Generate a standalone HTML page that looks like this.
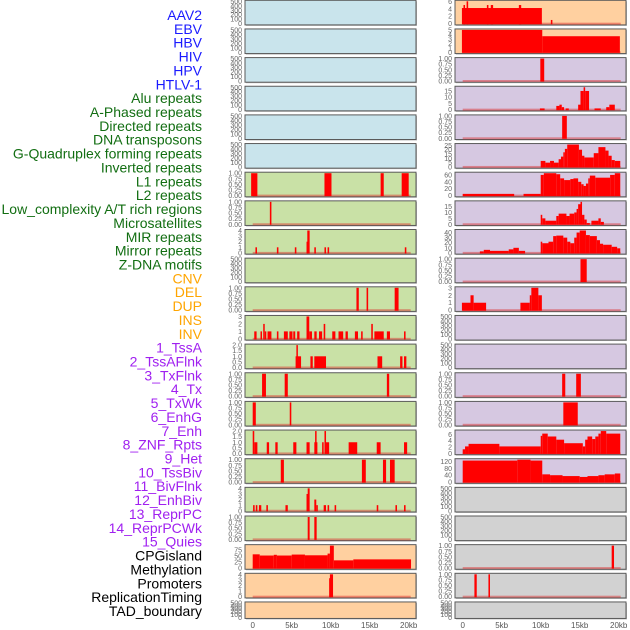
<!DOCTYPE html>
<html><head><meta charset="utf-8">
<style>
html,body{margin:0;padding:0;background:#fff;}
svg{display:block;font-family:"Liberation Sans",sans-serif;}
</style></head>
<body>
<svg id="chart" width="630" height="630" viewBox="0 0 630 630" xmlns="http://www.w3.org/2000/svg"></svg>
<script>
// ---------- data (kb start, kb end, value) ----------
const trackLabels = ["AAV2","EBV","HBV","HIV","HPV","HTLV-1","Alu repeats","A-Phased repeats","Directed repeats","DNA transposons","G-Quadruplex forming repeats","Inverted repeats","L1 repeats","L2 repeats","Low_complexity A/T rich regions","Microsatellites","MIR repeats","Mirror repeats","Z-DNA motifs","CNV","DEL","DUP","INS","INV","1_TssA","2_TssAFlnk","3_TxFlnk","4_Tx","5_TxWk","6_EnhG","7_Enh","8_ZNF_Rpts","9_Het","10_TssBiv","11_BivFlnk","12_EnhBiv","13_ReprPC","14_ReprPCWk","15_Quies","CPGisland","Methylation","Promoters","ReplicationTiming","TAD_boundary"];
const labelColors = ["#1a1aff","#1a1aff","#1a1aff","#1a1aff","#1a1aff","#1a1aff","#126e12","#126e12","#126e12","#126e12","#126e12","#126e12","#126e12","#126e12","#126e12","#126e12","#126e12","#126e12","#126e12","#ffa500","#ffa500","#ffa500","#ffa500","#ffa500","#a020f0","#a020f0","#a020f0","#a020f0","#a020f0","#a020f0","#a020f0","#a020f0","#a020f0","#a020f0","#a020f0","#a020f0","#a020f0","#a020f0","#a020f0","#000","#000","#000","#000","#000"];
const xTickValues = [0,5,10,15,20];
const xTickLabels = ["0","5kb","10kb","15kb","20kb"];
const emptyTicks = [0,100,200,300,400,500];
const unitTicks = [0,0.25,0.5,0.75,1];

const L6 = [[-0.2,0.6,1],[9.2,10.1,1],[16.4,16.8,1],[19.1,20.0,1]];
const L7 = [[2.2,2.4,1]];
const L8 = [[0.35,0.55,1],[3.1,3.3,1],[5.4,5.6,1],[6.9,7.0,2],[7.0,7.3,4],[7.9,8.1,1],[9.2,9.4,1],[9.6,9.8,1],[19.5,19.7,1]];
const L10 = [[13.3,13.6,1],[14.6,14.8,1],[18.2,18.7,1]];
const L11 = [[0.2,0.5,1],[1.0,1.15,1],[1.35,1.5,2],[1.55,1.7,1],[1.9,2.4,1],[3.1,3.3,1],[4.0,4.5,1],[4.7,5.1,1],[5.2,5.45,1],[5.7,6.0,1],[6.9,7.25,3],[7.25,7.6,1],[7.9,8.2,1],[8.5,8.9,1],[9.1,9.3,2],[10.2,10.6,1],[11.0,11.6,1],[11.9,12.2,1],[13.1,13.5,1],[13.9,14.1,1],[15.2,15.4,2],[15.6,16.8,1],[17.2,17.6,1],[19.4,19.6,1]];
const L12 = [[5.5,5.6,1],[5.6,5.7,2],[5.7,6.2,1],[7.4,7.7,1],[7.9,9.4,1],[16.0,16.6,1],[18.9,19.2,1],[19.4,19.7,1]];
const L13 = [[1.2,1.7,1],[4.1,4.5,1],[17.2,17.5,1]];
const L14 = [[0,0.4,1],[4.75,4.95,1]];
const L15 = [[0,0.2,2],[0.2,0.6,1],[1.8,2.1,1],[2.9,3.2,1],[5.2,5.6,1],[6.9,7.3,1],[7.9,8.0,1],[8.0,8.1,2],[8.1,8.2,1],[8.9,9.1,1],[9.2,9.4,2],[9.4,9.8,1],[12.3,13.4,1],[15.9,16.4,1],[19.4,19.8,1]];
const L16 = [[3.6,4.0,1],[14.0,14.5,1],[16.7,17.1,1],[17.6,18.2,1]];
const L17 = [[0.05,0.25,1],[0.4,0.6,1],[0.8,1.1,1],[1.75,1.95,1],[4.2,4.5,1],[6.9,7.05,3],[7.05,7.3,4],[7.9,8.15,2],[8.15,8.35,1],[9.1,9.4,1],[9.6,9.8,1],[10.5,10.7,1],[15.9,16.1,1],[18.3,18.5,1],[19.4,19.6,1]];
const L18 = [[7.05,7.3,1],[7.9,8.2,1]];
const L19 = [[0,0.9,57],[0.9,2.7,52],[2.7,3.1,55],[3.1,5.0,52],[5.0,6.7,56],[6.7,9.6,53],[9.6,9.9,60],[9.9,10.4,93],[10.4,12.9,32],[12.9,20.3,36]];
const L20 = [[9.8,9.9,3.3],[9.9,10.3,4]];

const R0 = [[-0.1,10.15,4.2],[0.1,0.3,5],[0.5,0.7,6],[3.1,3.3,5],[3.6,3.9,5],[7.2,7.5,5],[11.3,11.5,1]];
const R1 = [[-0.1,10.2,5],[10.2,20.15,3.6]];
const R2 = [[9.95,10.45,1]];
const R3 = [[9.9,10.5,1],[12.0,12.4,3],[12.4,12.7,4],[12.7,13.0,2],[13.2,13.6,1],[14.8,15.1,4],[15.1,15.5,15],[15.5,15.7,18],[15.7,16.2,15],[16.9,17.7,1],[18.4,18.8,2],[18.8,19.5,4]];
const R4 = [[12.75,13.35,1]];
const R5 = [[10.0,10.6,7],[10.6,11.2,5],[11.2,11.7,7],[11.7,12.3,5],[12.3,12.6,9],[12.6,12.9,12],[12.9,13.1,17],[13.1,13.4,21],[13.4,14.9,26],[14.9,15.3,20],[15.3,15.6,13],[15.6,16.8,11],[16.8,17.4,16],[17.4,18.3,23],[18.3,18.7,19],[18.7,19.1,13],[19.1,19.5,8],[19.5,20.2,7]];
const R6 = [[0,6.6,5],[7.8,10.0,5],[10.0,10.4,60],[10.4,12.0,65],[12.0,12.5,62],[12.5,13.0,50],[13.0,13.8,45],[13.8,14.2,48],[14.2,14.8,50],[14.8,15.2,40],[15.2,15.5,33],[15.5,15.8,28],[15.8,16.1,35],[16.1,16.3,50],[16.3,17.0,58],[17.0,18.9,52],[18.9,19.5,60],[19.5,20.2,65]];
const R7 = [[10.0,10.2,8],[10.2,10.6,5],[10.6,12.0,3],[12.0,12.3,7],[12.3,13.3,9],[13.3,13.7,7],[13.7,14.3,9],[14.3,14.6,10],[14.6,14.8,13],[14.8,15.1,17],[15.1,15.3,19],[15.3,15.6,8],[15.6,15.9,4],[15.9,16.3,1],[16.5,17.4,3],[17.4,17.7,5],[17.7,18.1,2]];
const R8 = [[2.2,2.7,3],[2.7,3.5,6],[3.5,5.9,4],[5.9,6.5,7],[6.5,7.2,10],[7.2,8.0,4],[10.0,10.2,22],[10.2,11.0,19],[11.0,11.6,22],[11.6,12.0,33],[12.0,12.9,34],[12.9,13.4,30],[13.4,13.8,22],[13.8,14.3,19],[14.3,14.6,30],[14.6,15.0,40],[15.0,15.8,44],[15.8,16.3,35],[16.3,17.2,33],[17.2,17.6,25],[17.6,18.0,18],[18.0,19.1,16],[19.1,19.8,12],[19.8,20.2,9]];
const R9 = [[15.1,15.9,1]];
const R10 = [[-0.1,1.0,1],[1.0,1.4,2],[1.4,3.0,1],[7.4,8.6,1],[8.6,8.8,2],[8.8,9.7,3],[9.7,10.15,2]];
const R13 = [[12.75,13.15,1],[14.55,15.15,1]];
const R14 = [[12.9,14.75,1]];
const R15 = [[0,0.3,1.3],[0.3,0.75,2.2],[0.75,4.7,3],[4.7,10.0,2.2],[10.0,10.2,5.5],[10.2,10.9,6.2],[10.9,12.0,5.3],[12.0,13.0,4.3],[13.0,15.4,3.2],[15.4,15.7,2.2],[15.7,16.0,4.3],[16.0,16.6,5.3],[16.6,17.0,4.5],[17.0,17.4,5.3],[17.4,17.7,6.2],[17.7,18.4,7],[18.4,20.2,6.2]];
const R16 = [[0,7.0,125],[7.0,8.7,130],[8.7,10.2,125],[10.2,11.2,45],[11.2,12.8,40],[12.8,15.0,35],[15.0,16.0,30],[16.0,17.4,35],[17.4,18.2,40],[18.2,19.5,45],[19.5,20.2,50]];
const R19 = [[19.1,19.4,1]];
const R20 = [[1.5,1.8,1],[3.3,3.5,1]];

// ---------- layout ----------
const BG = {blue:"#c9e4ec",green:"#c9e1a6",orange:"#ffd0a0",purple:"#d6c8e1",grey:"#d2d2d2"};
const panels = [
 ["L",0,"blue",null,null],["L",1,"blue",null,null],["L",2,"blue",null,null],["L",3,"blue",null,null],["L",4,"blue",null,null],["L",5,"blue",null,null],
 ["L",6,"green",L6,unitTicks],["L",7,"green",L7,unitTicks],["L",8,"green",L8,[0,1,2,3,4]],["L",9,"green",null,null],
 ["L",10,"green",L10,unitTicks],["L",11,"green",L11,[0,1,2,3]],["L",12,"green",L12,[0,0.5,1,1.5,2]],["L",13,"green",L13,unitTicks],
 ["L",14,"green",L14,unitTicks],["L",15,"green",L15,[0,0.5,1,1.5,2]],["L",16,"green",L16,unitTicks],["L",17,"green",L17,[0,1,2,3,4]],
 ["L",18,"green",L18,unitTicks],["L",19,"orange",L19,[0,25,50,75]],["L",20,"orange",L20,[0,1,2,3,4]],["L",21,"orange",null,null],
 ["R",0,"orange",R0,[0,2,4,6]],["R",1,"orange",R1,[0,1,2,3,4,5]],["R",2,"purple",R2,unitTicks],["R",3,"purple",R3,[0,5,10,15]],
 ["R",4,"purple",R4,unitTicks],["R",5,"purple",R5,[0,5,10,15,20,25]],["R",6,"purple",R6,[0,20,40,60]],["R",7,"purple",R7,[0,5,10,15]],
 ["R",8,"purple",R8,[0,10,20,30,40]],["R",9,"purple",R9,unitTicks],["R",10,"purple",R10,[0,1,2,3]],["R",11,"purple",null,null],
 ["R",12,"purple",null,null],["R",13,"purple",R13,unitTicks],["R",14,"purple",R14,unitTicks],["R",15,"purple",R15,[0,2,4,6]],
 ["R",16,"purple",R16,[0,40,80,120]],["R",17,"grey",null,null],["R",18,"grey",null,null],["R",19,"grey",R19,unitTicks],
 ["R",20,"grey",R20,unitTicks],["R",21,"grey",null,null]
];

const NS = "http://www.w3.org/2000/svg";
const svg = document.getElementById("chart");
function mk(tag, attrs, parent){
  const e = document.createElementNS(NS, tag);
  for (const k in attrs) e.setAttribute(k, attrs[k]);
  (parent||svg).appendChild(e);
  return e;
}
const colX = {L:245, R:455};
const PW = 171;
function xScale(col, kb){ return colX[col] + 7.7 + kb*7.8; }
function rowTop(i){ return 0.3 + 28.65*i; }
function rowH(i){ return i===21 ? 16.5 : 24.6; }
function fmt(t, ticks){
  const mx = ticks[ticks.length-1];
  if (mx===1) return t.toFixed(2);
  if (ticks.some(v=>v%1!==0)) return t.toFixed(1);
  return String(t);
}

// labels
trackLabels.forEach((lab,i)=>{
  const t = mk("text",{x:202,y:15+i*13.86+5,"text-anchor":"end","font-size":"14",fill:labelColors[i]});
  
  
  t.textContent = lab;
});

panels.forEach(p=>{
  const [col,row,bg,data,ticksIn] = p;
  const top = rowTop(row), h = rowH(row), left = colX[col];
  const g = mk("g",{});
  
  
  mk("rect",{x:left+1,y:top+1,width:PW,height:h,fill:"#bbb"},g);
  mk("rect",{x:left,y:top,width:PW,height:h,fill:BG[bg],stroke:"#5a5a5a","stroke-width":1},g);
  const ticks = ticksIn || emptyTicks;
  let ymax = ticks[ticks.length-1];
  if (data){ data.forEach(d=>{ if (d[2]>ymax) ymax=d[2]; }); }
  const y0 = top + h - 1.2, span = h - 2.2;
  const yScale = v => y0 - v/ymax*span;
  ticks.forEach(t=>{
    const ty = yScale(t);
    const lbl = mk("text",{x:left-3,y:ty+2.5,"text-anchor":"end","font-size":"7",fill:"#666"},g);
    
    
    lbl.textContent = fmt(t,ticks);
  });
  if (data){
    mk("rect",{x:xScale(col,0),y:y0-1,width:xScale(col,20)-xScale(col,0)+2,height:2,fill:"rgba(220,40,40,0.45)"},g);
    data.forEach(d=>{
      const x1 = xScale(col,d[0]), x2 = xScale(col,d[1]);
      const yt = yScale(d[2]);
      const b = mk("rect",{x:x1,y:yt,width:Math.max(1.5,x2-x1),height:y0-yt+0.5,fill:"#ff0000"},g);
      
      
    });
  }
});

// x axes
["L","R"].forEach(col=>{
  xTickValues.forEach((v,i)=>{
    const t = mk("text",{x:xScale(col,v),y:628,"text-anchor":"middle","font-size":"8",fill:"#555"});
    
    
    t.textContent = xTickLabels[i];
  });
});
</script>
</body></html>
